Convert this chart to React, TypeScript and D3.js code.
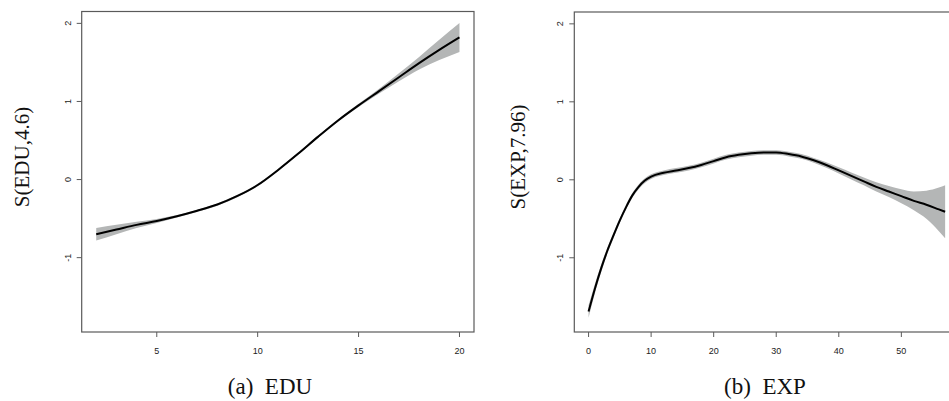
import React from 'react'
import * as d3 from 'd3'

// EDU smooth term
const eduX = [2, 3, 4, 5, 6, 7, 8, 9, 10, 11, 12, 13, 14, 15, 16, 17, 18, 19, 20]
const eduFit = [-0.70, -0.64, -0.58, -0.53, -0.47, -0.40, -0.32, -0.21, -0.07, 0.12, 0.33, 0.55, 0.76, 0.95, 1.13, 1.31, 1.49, 1.66, 1.82]
const eduSe = [0.08, 0.06, 0.04, 0.025, 0.015, 0.015, 0.015, 0.015, 0.015, 0.015, 0.015, 0.015, 0.015, 0.02, 0.03, 0.05, 0.08, 0.13, 0.185]
const eduTicksX = [5, 10, 15, 20]

// EXP smooth term
const expX = [0, 1, 2, 3, 4, 5, 6, 7, 8, 9, 10, 12, 14, 16, 18, 20, 22, 24, 26, 28, 30, 32, 34, 36, 38, 40, 42, 44, 46, 48, 50, 52, 54, 56, 57]
const expFit = [-1.69, -1.40, -1.14, -0.91, -0.71, -0.52, -0.35, -0.20, -0.09, -0.01, 0.04, 0.09, 0.12, 0.15, 0.19, 0.24, 0.29, 0.32, 0.34, 0.35, 0.35, 0.33, 0.30, 0.25, 0.19, 0.12, 0.05, -0.02, -0.09, -0.15, -0.21, -0.27, -0.32, -0.38, -0.41]
const expSe = [0.08, 0.06, 0.05, 0.04, 0.035, 0.03, 0.03, 0.03, 0.03, 0.03, 0.03, 0.03, 0.03, 0.03, 0.03, 0.03, 0.03, 0.03, 0.03, 0.03, 0.03, 0.03, 0.03, 0.03, 0.035, 0.04, 0.045, 0.05, 0.06, 0.07, 0.09, 0.12, 0.18, 0.28, 0.34]
const expTicksX = [0, 10, 20, 30, 40, 50]

const yTicks = [-1, 0, 1, 2]

function Panel({ xs, fit, se, xTicks, xDomain, left, right, top, bottom, yLabel, labelX, caption, captionX }) {
  const xScale = d3.scaleLinear().domain(xDomain).range([left, right])
  const yScale = d3.scaleLinear().domain([-1.952, 2.152]).range([bottom, top])

  const rows = xs.map((x, i) => ({ x, y: fit[i], se: se[i] }))

  const band = d3.area()
    .x(d => xScale(d.x))
    .y0(d => yScale(d.y - d.se))
    .y1(d => yScale(d.y + d.se))
    .curve(d3.curveMonotoneX)

  const line = d3.line()
    .x(d => xScale(d.x))
    .y(d => yScale(d.y))
    .curve(d3.curveMonotoneX)

  const axisColor = '#5a5a5a'
  const tickFont = '"Liberation Sans", Arial, sans-serif'
  const serif = '"Liberation Serif", "Times New Roman", serif'

  return (
    <g>
      <path d={band(rows)} fill="#b4b6b6" stroke="none" />
      <path d={line(rows)} fill="none" stroke="#000" strokeWidth="2" />
      <rect x={left} y={top} width={right - left} height={bottom - top} fill="none" stroke={axisColor} strokeWidth="1.2" />
      {xTicks.map(t => (
        <g key={'x' + t}>
          <line x1={xScale(t)} x2={xScale(t)} y1={bottom} y2={bottom + 5} stroke={axisColor} strokeWidth="1" />
          <text x={xScale(t)} y={bottom + 22} textAnchor="middle" fontFamily={tickFont} fontSize="9" fill="#222">{t}</text>
        </g>
      ))}
      {yTicks.map(t => (
        <g key={'y' + t}>
          <line x1={left - 5} x2={left} y1={yScale(t)} y2={yScale(t)} stroke={axisColor} strokeWidth="1" />
          <text transform={`translate(${left - 11},${yScale(t)}) rotate(-90)`} textAnchor="middle" fontFamily={tickFont} fontSize="9" fill="#222">{t}</text>
        </g>
      ))}
      <text transform={`translate(${labelX},157) rotate(-90)`} textAnchor="middle" fontFamily={serif} fontSize="21" fill="#111">{yLabel}</text>
      <text x={captionX} y={394} textAnchor="middle" fontFamily={serif} fontSize="23" fill="#111" style={{ whiteSpace: 'pre' }}>{caption}</text>
    </g>
  )
}

export default function App() {
  return (
    <svg width={949} height={401} style={{ position: 'absolute', left: 0, top: 0, background: '#fff' }}>
      <rect x={0} y={0} width={949} height={401} fill="#fff" />
      <Panel xs={eduX} fit={eduFit} se={eduSe} xTicks={eduTicksX} xDomain={[1.28, 20.72]}
        left={81.7} right={474} top={11.5} bottom={332}
        yLabel="S(EDU,4.6)" labelX={29} caption="(a)  EDU" captionX={270} />
      <Panel xs={expX} fit={expFit} se={expSe} xTicks={expTicksX} xDomain={[-2.28, 59.28]}
        left={574.3} right={959.4} top={12} bottom={332}
        yLabel="S(EXP,7.96)" labelX={525} caption="(b)  EXP" captionX={765} />
    </svg>
  )
}
